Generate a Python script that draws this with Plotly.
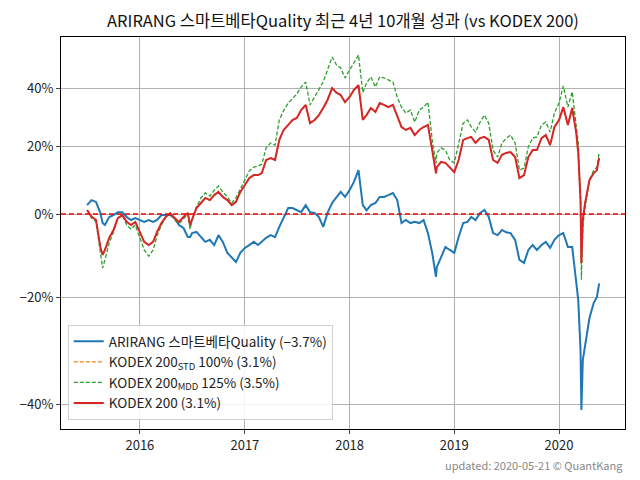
import plotly.graph_objects as go

dates = [
    "2015-07-01", "2015-07-16", "2015-08-01", "2015-08-16", "2015-08-24", "2015-09-01", "2015-09-16",
    "2015-10-01", "2015-10-16", "2015-11-01", "2015-11-16", "2015-12-01", "2015-12-16",
    "2016-01-01", "2016-01-16", "2016-02-01", "2016-02-16", "2016-03-01", "2016-03-16",
    "2016-04-01", "2016-04-16", "2016-05-01", "2016-05-16", "2016-06-01", "2016-06-16", "2016-06-24",
    "2016-07-01", "2016-07-16", "2016-08-01", "2016-08-16", "2016-09-01", "2016-09-16",
    "2016-10-01", "2016-10-16", "2016-11-01", "2016-11-16", "2016-12-01", "2016-12-16",
    "2017-01-01", "2017-01-16", "2017-02-01", "2017-02-16", "2017-03-01", "2017-03-16",
    "2017-04-01", "2017-04-16", "2017-05-01", "2017-05-16", "2017-06-01", "2017-06-16",
    "2017-07-01", "2017-07-16", "2017-08-01", "2017-08-16", "2017-09-01", "2017-09-16",
    "2017-10-01", "2017-10-16", "2017-11-01", "2017-11-16", "2017-12-01", "2017-12-16",
    "2018-01-01", "2018-01-16", "2018-02-01", "2018-02-16", "2018-03-01", "2018-03-16",
    "2018-04-01", "2018-04-16", "2018-05-01", "2018-05-16", "2018-06-01", "2018-06-16",
    "2018-07-01", "2018-07-16", "2018-08-01", "2018-08-16", "2018-09-01", "2018-09-16",
    "2018-10-01", "2018-10-16", "2018-10-29", "2018-11-01", "2018-11-16", "2018-12-01", "2018-12-16",
    "2019-01-01", "2019-01-16", "2019-02-01", "2019-02-16", "2019-03-01", "2019-03-16",
    "2019-04-01", "2019-04-16", "2019-05-01", "2019-05-16", "2019-06-01", "2019-06-16",
    "2019-07-01", "2019-07-16", "2019-08-01", "2019-08-16", "2019-09-01", "2019-09-16",
    "2019-10-01", "2019-10-16", "2019-11-01", "2019-11-16", "2019-12-01", "2019-12-16",
    "2020-01-01", "2020-01-16", "2020-02-01", "2020-02-16", "2020-03-01", "2020-03-08",
    "2020-03-16", "2020-03-19", "2020-03-24", "2020-04-01", "2020-04-16", "2020-05-01",
    "2020-05-12", "2020-05-20",
]

# cumulative returns in percent
kodex200 = [
    1.1, -0.7, -1.6, -8.4, -10.4, -9.2, -6.2,
    -4.2, -1.1, -0.3, -2.1, -2.9, -2.1,
    -5.0, -7.2, -8.0, -7.2, -4.7, -2.4,
    -0.7, 0.2, -1.1, -2.1, -0.8, 0.3, -2.9,
    -1.6, 1.6, 3.0, 4.4, 3.8, 5.2,
    6.1, 4.7, 3.8, 2.4, 3.3, 6.1,
    8.1, 10.1, 11.0, 11.0, 11.6, 15.6,
    16.2, 15.6, 22.0, 25.3, 27.0, 28.7,
    29.4, 32.2, 34.0, 27.6, 28.7, 30.4,
    32.9, 35.8, 40.2, 38.5, 37.6, 35.0,
    36.9, 39.5, 41.3, 28.7, 30.4, 32.9,
    31.5, 34.7, 34.0, 33.2, 34.0, 29.8,
    26.3, 25.3, 26.0, 23.6, 25.3, 26.3,
    27.0, 18.7, 11.5, 13.4, 15.0, 14.7, 13.4,
    11.9, 15.6, 22.0, 22.6, 23.0, 21.0,
    22.6, 23.0, 22.0, 15.6, 14.7, 17.2,
    17.8, 18.1, 16.5, 10.1, 11.0, 16.5,
    18.7, 18.7, 22.6, 23.6, 20.3, 26.3,
    28.7, 33.2, 27.0, 32.9, 24.3, 17.8,
    3.8, -12.3, -1.5, 3.0, 9.5, 11.6,
    12.5, 16.2,
]

kodex_mdd = [
    1.0, -1.0, -2.0, -9.7, -13.5, -11.6, -7.5,
    -4.7, -1.1, -0.3, -2.9, -4.0, -2.9,
    -6.2, -9.2, -10.7, -9.2, -5.7, -2.9,
    -0.8, 0.3, -1.6, -2.6, -1.3, 0.0, -4.0,
    -1.5, 1.9, 4.4, 5.8, 4.9, 6.6,
    7.8, 6.1, 4.7, 3.0, 4.4, 6.9,
    9.5, 12.2, 13.4, 13.7, 14.3, 19.4,
    21.0, 20.3, 28.7, 32.0, 34.7, 36.5,
    38.0, 40.6, 42.5, 34.0, 36.9, 39.5,
    42.5, 47.2, 52.4, 49.2, 48.0, 44.1,
    47.2, 50.4, 53.2, 38.5, 42.1, 44.5,
    40.6, 44.5, 44.1, 43.3, 42.5, 36.9,
    33.2, 31.1, 32.2, 28.0, 32.2, 33.2,
    35.0, 22.0, 14.5, 17.8, 19.4, 18.7, 15.6,
    14.7, 21.0, 27.6, 28.7, 26.3, 24.6,
    28.0, 30.4, 27.6, 18.7, 16.5, 21.0,
    22.5, 23.6, 21.0, 12.5, 13.1, 19.7,
    22.6, 23.0, 27.0, 28.0, 24.6, 31.1,
    34.7, 41.0, 33.2, 38.8, 27.6, 21.0,
    3.8, -16.2, -3.0, 1.9, 9.5, 12.5,
    13.4, 18.1,
]

arirang = [
    2.4, 3.8, 3.3, 0.3, -2.4, -2.9, -0.8,
    -0.3, 0.5, 0.5, -0.8, -1.6, -1.1,
    -1.6, -2.1, -1.6, -2.1, -1.6, -0.3,
    -0.3, -0.3, -1.1, -2.9, -3.7, -6.0, -6.0,
    -5.0, -4.7, -6.0, -7.2, -6.7, -8.0,
    -5.5, -7.2, -9.9, -11.1, -12.1, -9.9,
    -8.7, -8.0, -7.2, -8.0, -7.2, -6.2,
    -5.5, -6.0, -3.4, -0.8, 1.6, 1.6,
    1.0, 0.5, 2.4, 0.5, 0.3, -0.8,
    -3.4, 0.3, 3.0, 4.7, 6.1, 4.7,
    6.6, 9.0, 12.5, 2.4, 1.0, 2.4,
    3.0, 4.7, 4.7, 5.2, 5.8, 3.8,
    -2.4, -1.6, -2.4, -2.1, -2.4, -1.6,
    -5.0, -9.9, -15.5, -13.3, -10.9, -8.5, -9.2,
    -9.9, -6.0, -2.4, -2.1, -0.8, -1.6,
    0.3, 1.1, -0.8, -5.0, -5.5, -4.2,
    -4.8, -5.0, -6.7, -11.6, -12.3, -9.2,
    -8.0, -9.2, -8.0, -7.2, -8.7, -6.7,
    -5.5, -5.0, -8.5, -8.5, -16.0, -20.6,
    -30.6, -40.9, -32.4, -29.6, -24.4, -21.2,
    -20.0, -17.0,
]

# STD 100% series coincides with KODEX 200 (hidden beneath it)
kodex_std = list(kodex200)

names = [
    "ARIRANG 스마트베타Quality (−3.7%)",
    "KODEX 200<sub>STD</sub> 100% (3.1%)",
    "KODEX 200<sub>MDD</sub> 125% (3.5%)",
    "KODEX 200 (3.1%)",
]

tick_vals = [0.6, 0.8, 1.0, 1.2, 1.4]
tick_text = ["−40%", "−20%", "0%", "20%", "40%"]
year_ticks = ["2016-01-01", "2017-01-01", "2018-01-01", "2019-01-01", "2020-01-01"]
x_range = ["2015-04-01", "2020-08-18"]


def growth(v):
    return [1 + p / 100.0 for p in v]


FONT = "Noto Sans CJK KR, Noto Sans, DejaVu Sans, sans-serif"
SHORT_DASH = "4px,2px"

fig = go.Figure()
fig.add_trace(go.Scatter(x=dates, y=growth(arirang), mode="lines", name=names[0], legendgroup="a",
                         line=dict(color="#1f77b4", width=2)))
fig.add_trace(go.Scatter(x=dates, y=growth(kodex_std), mode="lines", name=names[1], legendgroup="b",
                         line=dict(color="#ff7f0e", width=1.3, dash=SHORT_DASH)))
fig.add_trace(go.Scatter(x=dates, y=growth(kodex_mdd), mode="lines", name=names[2], legendgroup="c",
                         line=dict(color="#2ca02c", width=1.3, dash=SHORT_DASH)))
fig.add_trace(go.Scatter(x=dates, y=growth(kodex200), mode="lines", name=names[3], legendgroup="d",
                         line=dict(color="#d62728", width=2)))
fig.add_trace(go.Scatter(x=x_range, y=[1.0, 1.0], mode="lines", showlegend=False,
                         hoverinfo="skip", line=dict(color="red", width=1.3, dash="5px,3px")))

fig.update_layout(
    width=632, height=472,
    margin=dict(l=53, r=15, t=29, b=51),
    paper_bgcolor="white", plot_bgcolor="white",
    font=dict(family=FONT, size=13, color="#222"),
    title=dict(text="ARIRANG 스마트베타Quality 최근 4년 10개월 성과 (vs KODEX 200)",
               xref="paper", x=0.5, xanchor="center", y=0.972, yanchor="middle",
               font=dict(size=16.5, color="#111")),
    legend=dict(x=0.012, y=0.023, xanchor="left", yanchor="bottom",
                bgcolor="rgba(255,255,255,0.85)", bordercolor="#d0d0d0", borderwidth=1,
                font=dict(size=13.5, color="#222"), tracegroupgap=0, itemwidth=30),
    showlegend=True,
)
fig.update_xaxes(type="date", range=x_range, tickvals=year_ticks, tickformat="%Y",
                 showgrid=True, gridcolor="#b0b0b0", gridwidth=1, automargin=False,
                 showline=True, linecolor="black", linewidth=1, mirror=True,
                 ticks="outside", ticklen=4, tickcolor="#444", zeroline=False)
fig.update_yaxes(type="log", range=[-0.2506, 0.2063], tickvals=tick_vals, ticktext=tick_text,
                 showgrid=True, gridcolor="#b0b0b0", gridwidth=1, automargin=False,
                 showline=True, linecolor="black", linewidth=1, mirror=True,
                 ticks="outside", ticklen=4, tickcolor="#444", zeroline=False)

fig.add_annotation(text="updated: 2020-05-21 © QuantKang", xref="paper", yref="paper",
                   x=1.0, y=-0.092, xanchor="right", yanchor="middle", showarrow=False,
                   font=dict(size=11, color="#888"))

fig.write_html("out.html")
